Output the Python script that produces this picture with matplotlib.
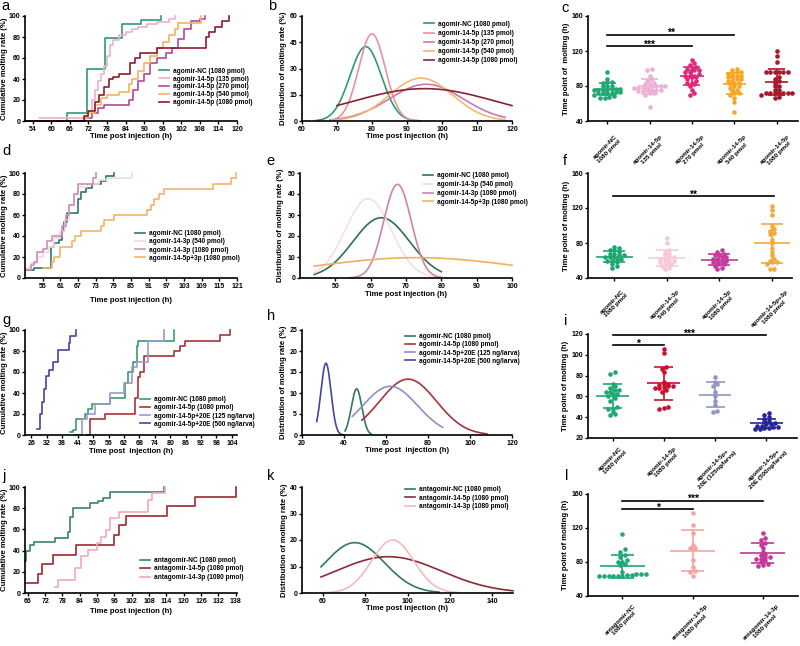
import numpy as np
import matplotlib
matplotlib.use("Agg")
import matplotlib.pyplot as plt

plt.rcParams['font.family'] = ['Liberation Sans', 'DejaVu Sans']
plt.rcParams['font.weight'] = 'bold'
plt.rcParams['axes.labelweight'] = 'bold'

# ---------------- data ----------------
# a: cumulative molting, agomir-14-5p doses (step curves: time h, rate %)
a_nc_t = [51.5, 65, 71.5, 77.5, 83, 89, 95.5]
a_nc_p = [0, 8, 50, 79, 92, 96, 100]
a_135_t = [56, 71, 72, 73, 74, 75, 76, 77, 78, 79, 80, 82, 84, 86, 88, 91, 94, 98, 100]
a_135_p = [3, 5, 10, 20, 30, 38, 45, 52, 62, 72, 77, 82, 85, 88, 90, 92, 94, 97, 100]
a_270_t = [51.5, 71, 73, 75, 77, 83, 85, 86.5, 88, 90, 92, 94, 97, 99, 101, 103, 105, 108, 109.5]
a_270_p = [0, 3, 8, 12, 15, 15, 20, 30, 38, 45, 55, 60, 65, 70, 78, 88, 95, 97, 100]
a_540_t = [51.5, 71, 72, 74, 76, 78, 82, 85, 86, 88, 90, 92, 94, 96, 98, 100, 101, 107, 108.5]
a_540_p = [0, 3, 8, 15, 22, 25, 28, 35, 40, 48, 55, 62, 70, 75, 82, 88, 93, 93, 100]
a_1080_t = [51.5, 70.5, 72, 74, 75.5, 77, 78.5, 80, 82, 85.5, 87, 88.5, 94, 110, 111, 113, 115, 117.5]
a_1080_p = [0, 5, 10, 18, 25, 32, 40, 42, 45, 55, 60, 65, 70, 80, 85, 90, 95, 100]

# b: fitted distributions (mean, SD, peak height, plotted range)
b_mu = [78.2, 80.0, 95.5, 94.0, 95.0]
b_sd = [4.5, 3.8, 10.5, 9.0, 20.5]
b_pk = [42.5, 49.8, 21.0, 24.5, 18.5]
b_x0 = [64, 68, 68, 68, 70]
b_x1 = [94, 94, 118, 118, 120]

# c: individual molting time points (h)
c_nc = [96, 88, 85, 85, 84, 80, 80, 80, 77, 77, 77, 76, 76, 76, 76, 73, 73, 72, 72, 72, 72, 70, 69, 67, 66, 66]
c_135 = [100, 98, 92, 88, 86, 84, 82, 82, 80, 80, 80, 80, 78, 78, 78, 78, 76, 76, 76, 76, 74, 74, 72, 72, 70, 56]
c_270 = [110, 106, 104, 102, 100, 100, 98, 98, 96, 96, 94, 92, 92, 92, 90, 90, 88, 86, 84, 84, 82, 80, 76, 72, 70]
c_540 = [100, 98, 96, 96, 94, 94, 92, 92, 90, 90, 88, 88, 86, 86, 84, 84, 82, 80, 80, 78, 76, 74, 72, 72, 70, 66, 62, 50]
c_1080 = [120, 114, 108, 96, 96, 96, 96, 96, 96, 90, 88, 86, 84, 80, 80, 76, 76, 72, 72, 72, 72, 72, 72, 72, 70, 68, 66]

# d: cumulative molting, agomir-14-3p
d_nc_t = [49.5, 52, 57.8, 59, 60.5, 61.5, 62.3, 63.3, 67, 68, 69.6, 71.8, 74.7, 76.4, 79.2]
d_nc_p = [8, 10, 30, 33, 36, 45, 53, 62, 75, 82, 86, 90, 92, 97, 100]
d_540_t = [49.5, 51, 53, 55, 57, 59, 61, 62.5, 64, 65.5, 67, 70, 74, 77, 85.5]
d_540_p = [10, 14, 20, 25, 30, 38, 45, 55, 70, 80, 87, 90, 93, 95, 100]
d_1080_t = [49.5, 51, 52, 53, 55, 56.5, 58, 61.5, 63, 64, 65.5, 67, 72, 73]
d_1080_p = [8, 12, 15, 25, 28, 35, 40, 50, 60, 70, 80, 90, 95, 100]
d_53_t = [55, 57, 58, 59, 61, 64, 65, 66, 68, 73.5, 74.7, 75.8, 79.2, 90.6, 91.8, 92.9, 94.6, 96.3, 112.8, 119, 120.8]
d_53_p = [10, 10, 15, 20, 30, 30, 35, 40, 45, 45, 50, 55, 60, 65, 70, 75, 80, 85, 90, 95, 100]

# e: fitted distributions
e_mu = [63.0, 59.3, 67.6, 73.0]
e_sd = [8.0, 6.5, 3.9, 28.0]
e_pk = [28.7, 37.8, 44.6, 9.7]
e_x0 = [44, 44, 54, 44]
e_x1 = [80, 80, 80, 100]

# f: individual molting time points (h)
f_nc = [76, 74, 72, 72, 70, 68, 68, 66, 66, 64, 64, 64, 62, 62, 60, 60, 58, 56, 54, 52]
f_540 = [86, 80, 72, 70, 68, 66, 64, 64, 62, 62, 60, 60, 58, 58, 56, 56, 54, 52, 50]
f_1080 = [72, 70, 68, 66, 66, 64, 64, 62, 62, 60, 60, 58, 58, 56, 56, 54, 52, 50]
f_53 = [122, 118, 112, 100, 96, 94, 92, 90, 84, 80, 74, 70, 66, 62, 60, 58, 58, 56, 50, 50]

# g: cumulative molting with 20E
g_nc_t = [41.2, 42, 43.5, 46.8, 48, 49.4, 56.6, 62.4, 63.7, 65.7, 67, 67.6, 81.5]
g_nc_p = [3, 5, 15, 20, 25, 30, 35, 50, 60, 70, 85, 90, 100]
g_5p_t = [47.5, 48.8, 54.6, 66.3, 67.6, 68.3, 69.8, 81.3, 83.9, 85.8, 99.5, 103.4]
g_5p_p = [0, 15, 20, 35, 55, 60, 75, 80, 85, 90, 95, 100]
g_125_t = [43.5, 45.5, 47.5, 50.7, 56.6, 62, 65, 67, 71.5, 77.6]
g_125_p = [0, 15, 20, 30, 40, 50, 65, 70, 90, 100]
g_500_t = [28, 29.3, 30, 30.7, 31.5, 33, 34.5, 36.4, 40.5, 41.2, 43.5]
g_500_p = [6, 20, 31, 44, 56, 62, 70, 81, 88, 94, 100]

# h: fitted distributions
h_mu = [46.0, 70.5, 62.0, 31.4]
h_sd = [2.5, 13.5, 13.0, 2.4]
h_pk = [11.0, 13.3, 11.6, 17.1]
h_x0 = [40.5, 48.5, 44, 27]
h_x1 = [53, 108, 87, 40]

# i: individual molting time points (h)
i_nc = [83, 82, 72, 70, 68, 66, 66, 64, 64, 62, 62, 60, 58, 56, 50, 48, 48, 45, 43, 42]
i_5p = [106, 102, 88, 86, 83, 74, 72, 72, 71, 70, 70, 69, 68, 68, 66, 64, 50, 49, 48]
i_125 = [79, 74, 72, 70, 64, 60, 56, 52, 46, 45]
i_500 = [44, 42, 40, 38, 36, 35, 34, 33, 33, 32, 32, 31, 31, 30, 30, 29, 29]

# j: cumulative molting, antagomirs
j_nc_t = [65, 65.5, 66.8, 68, 75.4, 80, 80.6, 81.7, 87.4, 90.3, 92, 94.3, 113.2]
j_nc_p = [30, 40, 45, 48, 52, 58, 72, 80, 85, 87, 90, 95, 100]
j_5p_t = [65, 69.5, 71, 74.8, 82.8, 96, 97.7, 100, 114.3, 124, 138]
j_5p_p = [9, 18, 27, 36, 45, 55, 64, 73, 82, 91, 100]
j_3p_t = [75.5, 76.5, 82.5, 84.5, 87, 90, 91.4, 93, 94.5, 97.7, 107.5, 109.2, 113.4]
j_3p_p = [6, 12, 24, 35, 41, 47, 53, 59, 71, 76, 88, 94, 100]

# k: fitted distributions
k_mu = [75.0, 91.0, 93.0]
k_sd = [14.0, 25.0, 10.0]
k_pk = [19.0, 13.7, 20.0]
k_x0 = [59, 59, 59]
k_x1 = [115, 150, 125]

# l: individual molting time points (h)
l_nc = [113, 95, 92, 88, 86, 82, 80, 80, 78, 76, 68, 66, 66, 66, 65, 65, 64, 64, 64, 64, 64, 64]
l_5p = [138, 124, 114, 100, 96, 96, 82, 74, 70, 68, 64]
l_3p = [114, 108, 106, 102, 100, 96, 92, 90, 88, 86, 86, 84, 84, 82, 80, 78, 76, 75]

lab_a = ['agomir-NC (1080 pmol)', 'agomir-14-5p (135 pmol)', 'agomir-14-5p (270 pmol)',
         'agomir-14-5p (540 pmol)', 'agomir-14-5p (1080 pmol)']
lab_d = ['agomir-NC (1080 pmol)', 'agomir-14-3p (540 pmol)', 'agomir-14-3p (1080 pmol)',
         'agomir-14-5p+3p (1080 pmol)']
lab_g = ['agomir-NC (1080 pmol)', 'agomir-14-5p (1080 pmol)', 'agomir-14-5p+20E (125 ng/larva)',
         'agomir-14-5p+20E (500 ng/larva)']
lab_j = ['antagomir-NC (1080 pmol)', 'antagomir-14-5p (1080 pmol)', 'antagomir-14-3p (1080 pmol)']
cat_c = ['agomir-NC\n1080 pmol', 'agomir-14-5p\n135 pmol', 'agomir-14-5p\n270 pmol',
         'agomir-14-5p\n540 pmol', 'agomir-14-5p\n1080 pmol']
cat_f = ['agomir-NC\n1080 pmol', 'agomir-14-3p\n540 pmol', 'agomir-14-3p\n1080 pmol',
         'agomir-14-5p+3p\n1080 pmol']
cat_i = ['agomir-NC\n1080 pmol', 'agomir-14-5p\n1080 pmol', 'agomir-14-5p+\n20E (125ng/larva)',
         'agomir-14-5p+\n20E (500ng/larva)']
cat_l = ['antagomir-NC\n1080 pmol', 'antagomir-14-5p\n1080 pmol', 'antagomir-14-3p\n1080 pmol']

# ---------------- helpers ----------------
W, H = 800, 646
fig = plt.figure(figsize=(8, 6.46), dpi=100)

TICK_FS, LEG_FS, LAB_FS, CAT_FS = 5.0, 4.7, 5.6, 4.5
LW = 1.2


def px_axes(x0, y0, x1, y1):
    ax = fig.add_axes([x0 / W, 1 - y1 / H, (x1 - x0) / W, (y1 - y0) / H])
    for s in ('top', 'right'):
        ax.spines[s].set_visible(False)
    for s in ('left', 'bottom'):
        ax.spines[s].set_linewidth(1.2)
    ax.tick_params(length=2.3, width=1.0, pad=1.2, labelsize=TICK_FS)
    ax._px = (x0, y0, x1, y1)
    return ax


def labels(ax, xlab, ylab, ylab_right_px, xlab_top_px):
    x0, y0, x1, y1 = ax._px
    if xlab:
        ax.set_xlabel(xlab, fontsize=LAB_FS)
        ax.xaxis.set_label_coords(0.5, (y1 - xlab_top_px) / (y1 - y0))
    ax.set_ylabel(ylab, fontsize=LAB_FS)
    ax.yaxis.set_label_coords((ylab_right_px - x0) / (x1 - x0), 0.5)


def legend_px(ax, x_px, y_first, y_last, n):
    sp_pt = (y_last - y_first) / (n - 1) * 0.72
    ls = max(sp_pt / LEG_FS - 1.16, 0)
    yc = (y_first + y_last) / 2
    ax.legend(loc='center left', bbox_to_anchor=(x_px / W, 1 - yc / H),
              bbox_transform=fig.transFigure, frameon=False, fontsize=LEG_FS,
              handlelength=1.5, handletextpad=0.7, labelspacing=ls,
              borderpad=0, borderaxespad=0)


def cum_panel(ax, ts, ps, cols, labs, xlim, xticks):
    for t, p, c, lb in zip(ts, ps, cols, labs):
        ax.plot(t, p, drawstyle='steps-post', color=c, lw=LW, label=lb, clip_on=False)
    ax.set_xlim(*xlim)
    ax.set_ylim(0, 100)
    ax.set_xticks(xticks)
    ax.set_yticks(range(0, 101, 20))


def gauss_panel(ax, mu, sd, pk, x0, x1, cols, labs):
    for m, s, h, a, b, c, lb in zip(mu, sd, pk, x0, x1, cols, labs):
        x = np.linspace(a, b, 300)
        ax.plot(x, h * np.exp(-0.5 * ((x - m) / s) ** 2), color=c, lw=LW, label=lb,
                clip_on=False)


def swarm(v, step, bin_):
    off = np.zeros(len(v))
    start = 0
    for k in range(1, len(v) + 1):
        if k == len(v) or v[k] - v[start] >= bin_:
            n = k - start
            off[start:k] = (np.arange(n) - (n - 1) / 2) * step
            start = k
    return off


def dot_panel(ax, groups, cols, cats, xlim, ylim, yticks, step, bin_, mean_w, cap_w, pad):
    for i, (vals, c) in enumerate(zip(groups, cols)):
        v = np.sort(np.asarray(vals, float))
        ax.plot(i + swarm(v, step, bin_), v, 'o', ms=3.3, color=c, mec='none', clip_on=False)
        m, s = v.mean(), v.std(ddof=1)
        ax.hlines(m, i - mean_w / 2, i + mean_w / 2, color=c, lw=LW)
        ax.vlines(i, m - s, m + s, color=c, lw=LW)
        ax.hlines([m - s, m + s], i - cap_w / 2, i + cap_w / 2, color=c, lw=LW)
    ax.set_xlim(*xlim)
    ax.set_ylim(*ylim)
    ax.set_yticks(yticks)
    ax.set_xticks(range(len(groups)))
    ax.set_xticklabels(cats, rotation=45, fontsize=CAT_FS, multialignment='center')
    ax.tick_params(axis='x', pad=pad)


def sig(ax, i0, i1, y, txt):
    ax.plot([i0, i1], [y, y], color='black', lw=1.2, clip_on=False)
    ax.annotate(txt, ((i0 + i1) / 2, y), xytext=(0, -1.2), textcoords='offset points',
                ha='center', va='baseline', fontsize=7.5)


def panel_letter(x, y, s):
    fig.text(x / W, 1 - y / H, s, fontsize=10.5, fontweight='normal', va='center', ha='left')


# ---------------- row 1 ----------------
ax = px_axes(25, 16, 237, 121)
cum_panel(ax, [a_nc_t, a_135_t, a_270_t, a_540_t, a_1080_t],
          [a_nc_p, a_135_p, a_270_p, a_540_p, a_1080_p],
          ['#2a9d74', '#eab0d0', '#b4489c', '#f5b15c', '#8b1c2c'], lab_a,
          (51.5, 120), range(54, 121, 6))
labels(ax, 'Time post injection (h)', 'Cumulative molting rate (%)', 8, 133)
legend_px(ax, 159, 70, 104, 5)

ax = px_axes(302, 16, 512, 121)
gauss_panel(ax, b_mu, b_sd, b_pk, b_x0, b_x1,
            ['#2a9d74', '#e8929e', '#c47ab0', '#f5b870', '#8a2030'], lab_a)
ax.set_xlim(60, 120)
ax.set_ylim(0, 60)
ax.set_xticks(range(60, 121, 10))
ax.set_yticks(range(0, 61, 15))
labels(ax, 'Time post injection (h)', 'Distribution of molting rate (%)', 287, 133)
legend_px(ax, 424, 23, 62, 5)

ax = px_axes(588, 16, 798, 121)
dot_panel(ax, [c_nc, c_135, c_270, c_540, c_1080],
          ['#1fa774', '#ebb2d6', '#e0287a', '#f5a623', '#a8182a'], cat_c,
          (-0.45, 4.5), (40, 160), range(40, 161, 40), 0.105, 3.5, 0.55, 0.4, 7.0)
sig(ax, 0, 2, 125.3, '***')
sig(ax, 0, 3, 138.7, '**')
labels(ax, None, 'Time point of  molting (h)', 570, None)

# ---------------- row 2 ----------------
ax = px_axes(25, 173, 237, 278)
cum_panel(ax, [d_nc_t, d_540_t, d_1080_t, d_53_t], [d_nc_p, d_540_p, d_1080_p, d_53_p],
          ['#2e7768', '#f6d6e0', '#c98fbc', '#f2b468'], lab_d,
          (49, 121), range(55, 122, 6))
labels(ax, 'Time post injection (h)', 'Cumulative molting rate (%)', 8, 297)
legend_px(ax, 135, 233, 259, 4)

ax = px_axes(300, 173, 512, 278)
gauss_panel(ax, e_mu, e_sd, e_pk, e_x0, e_x1,
            ['#2f6e55', '#f7dde4', '#d083a8', '#f0b060'], lab_d)
ax.set_xlim(40, 100)
ax.set_ylim(0, 50)
ax.set_xticks(range(50, 101, 10))
ax.set_yticks(range(0, 51, 10))
labels(ax, 'Time post injection (h)', 'Distribution of molting rate (%)', 284, 291)
legend_px(ax, 423, 175, 203, 4)

ax = px_axes(588, 173, 792, 278)
dot_panel(ax, [f_nc, f_540, f_1080, f_53],
          ['#1da672', '#f7c9d6', '#c23a9a', '#f2a93b'], cat_f,
          (-0.5, 3.38), (40, 160), range(40, 161, 40), 0.088, 3.5, 0.7, 0.42, 5.3)
sig(ax, -0.03, 3.03, 133.7, '**')
labels(ax, None, 'Time point of molting (h)', 570, None)

# ---------------- row 3 ----------------
ax = px_axes(25, 330, 237, 435)
cum_panel(ax, [g_nc_t, g_5p_t, g_125_t, g_500_t], [g_nc_p, g_5p_p, g_125_p, g_500_p],
          ['#3b9a6e', '#a8323a', '#9a9ad0', '#4646a0'], lab_g,
          (23.5, 106), range(26, 105, 6))
labels(ax, 'Time post  injection (h)', 'Cumulative molting rate (%)', 8, 448)
legend_px(ax, 140, 399, 425, 4)

ax = px_axes(302, 330, 512, 435)
gauss_panel(ax, h_mu, h_sd, h_pk, h_x0, h_x1,
            ['#2f7a5e', '#a8323a', '#8e8ec8', '#4646a0'], lab_g)
ax.set_xlim(20, 120)
ax.set_ylim(0, 25)
ax.set_xticks(range(20, 121, 20))
ax.set_yticks(range(0, 26, 5))
labels(ax, 'Time post  injection (h)', 'Distribution of molting rate (%)', 287, 447)
legend_px(ax, 405, 336, 362, 4)

ax = px_axes(588, 334, 797, 438)
dot_panel(ax, [i_nc, i_5p, i_125, i_500],
          ['#1fa774', '#c8102e', '#9595c0', '#26249a'], cat_i,
          (-0.48, 3.6), (20, 120), range(20, 121, 20), 0.088, 3.0, 0.64, 0.37, 3.2)
sig(ax, 0, 1, 109.5, '*')
sig(ax, 0, 3, 119.0, '***')
labels(ax, None, 'Time point of molting (h)', 569, None)

# ---------------- row 4 ----------------
ax = px_axes(25, 487, 237, 593)
cum_panel(ax, [j_nc_t, j_5p_t, j_3p_t], [j_nc_p, j_5p_p, j_3p_p],
          ['#3a8566', '#a0282e', '#f2aab4'], lab_j,
          (65, 138.5), range(66, 139, 6))
labels(ax, 'Time post injection (h)', 'Cumulative molting rate (%)', 8, 608)
legend_px(ax, 140, 560, 578, 3)

ax = px_axes(302, 487, 513, 593)
gauss_panel(ax, k_mu, k_sd, k_pk, k_x0, k_x1, ['#2f7a5e', '#8c2a36', '#f5b8c0'], lab_j)
ax.set_xlim(50, 150)
ax.set_ylim(0, 40)
ax.set_xticks(range(60, 141, 20))
ax.set_yticks(range(0, 41, 10))
labels(ax, 'Time post injection (h)', 'Distribution of molting rate (%)', 288, 605)
legend_px(ax, 405, 489, 507, 3)

ax = px_axes(588, 494, 798, 596)
dot_panel(ax, [l_nc, l_5p, l_3p], ['#1fa774', '#f2a3a3', '#c4379a'], cat_l,
          (-0.49, 2.5), (40, 160), range(40, 161, 40), 0.066, 3.5, 0.64, 0.33, 3.0)
sig(ax, 0, 1, 142.4, '*')
sig(ax, 0, 2, 152.3, '***')
labels(ax, None, 'Time point of molting (h)', 569, None)

for x, y, s in [(1, 6, 'a'), (268, 6, 'b'), (561, 8, 'c'),
                (2, 151, 'd'), (266, 161, 'e'), (563, 161, 'f'),
                (2, 320, 'g'), (267, 316, 'h'), (564, 321, 'i'),
                (2, 476, 'j'), (267, 476, 'k'), (565, 476, 'l')]:
    panel_letter(x, y, s)

fig.savefig('out.png', dpi=100)
